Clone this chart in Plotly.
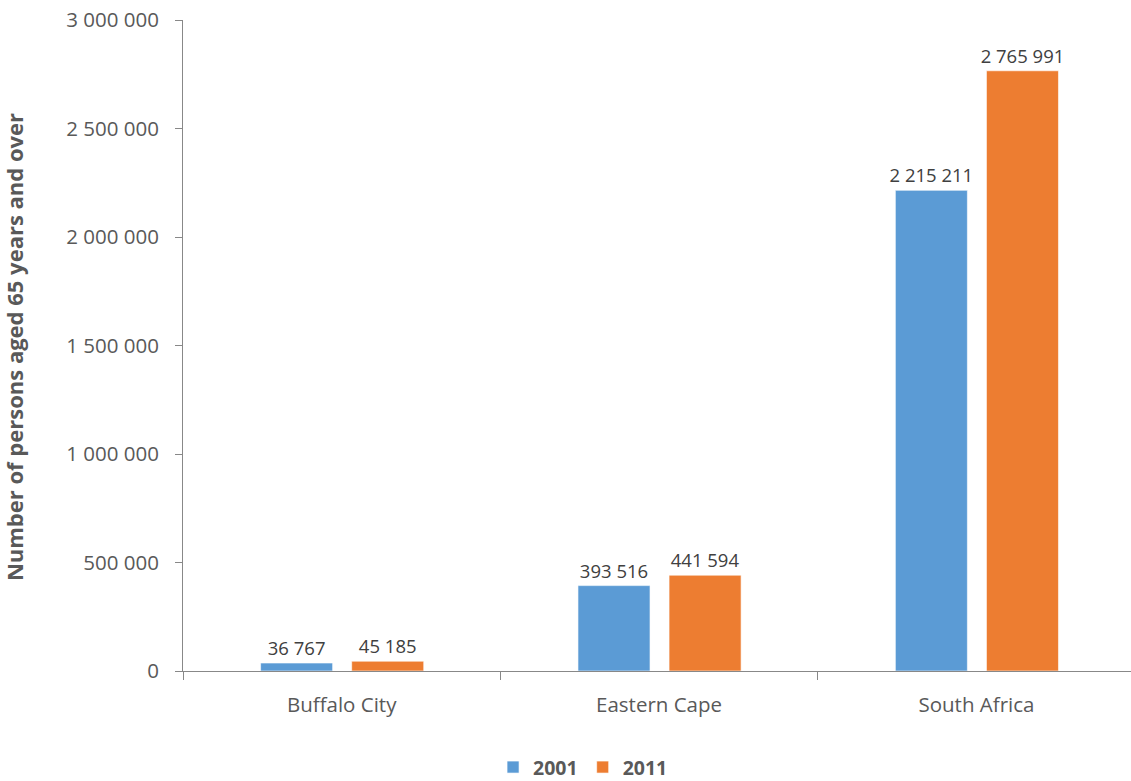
import plotly.graph_objects as go

categories = ["Buffalo City", "Eastern Cape", "South Africa"]
years = ["2001", "2011"]
values_2001 = [36767, 393516, 2215211]
values_2011 = [45185, 441594, 2765991]

colors = ["#5B9BD5", "#ED7D31"]
offsets = [-0.2555, 0.0315]
bar_width = 0.227
FONT = "Open Sans, Liberation Sans, sans-serif"

fig = go.Figure()
for name, vals, col, off in zip(years, [values_2001, values_2011], colors, offsets):
    fig.add_trace(go.Bar(
        x=categories, y=vals, name=name,
        marker=dict(color=col, line=dict(color="rgba(255,255,255,0.6)", width=1)),
        width=bar_width, offset=off,
        texttemplate="%{y:,d}", textposition="outside", constraintext="none",
        textfont=dict(family=FONT, size=18.5, color="#404040"),
        cliponaxis=False,
    ))

fig.update_layout(
    width=1131, height=781,
    margin=dict(l=183, r=0, t=20, b=110, autoexpand=False),
    paper_bgcolor="white", plot_bgcolor="white",
    separators=". ",
    barmode="overlay",
    font=dict(family=FONT, size=20, color="#595959"),
    legend=dict(orientation="h", x=0.422, xanchor="center", y=-0.178, yanchor="bottom",
                font=dict(family=FONT, size=19.5, color="#595959", weight="bold"),
                itemwidth=30, traceorder="normal"),
    xaxis=dict(
        type="category", range=[-0.5, 2.487],
        showline=True, linecolor="#888888", linewidth=1,
        ticks="outside", tickson="boundaries", ticklen=8, tickcolor="#888888",
        tickfont=dict(family=FONT, size=20.5, color="#595959"),
        ticklabelstandoff=15,
        showgrid=False,
    ),
    yaxis=dict(
        range=[0, 3000000], dtick=500000, tickformat=",d",
        showline=True, linecolor="#888888", linewidth=1,
        ticks="outside", ticklen=7, tickcolor="#888888",
        tickfont=dict(family=FONT, size=20.5, color="#595959"),
        ticklabelstandoff=12,
        showgrid=False, zeroline=False,
    ),
    annotations=[dict(
        text="<b>Number of persons aged 65 years and over</b>",
        xref="paper", yref="paper", x=-0.179, y=0.498,
        xanchor="center", yanchor="middle", textangle=-90, showarrow=False,
        font=dict(family=FONT, size=22, color="#595959"),
    )],
)

fig.write_html("out.html")
